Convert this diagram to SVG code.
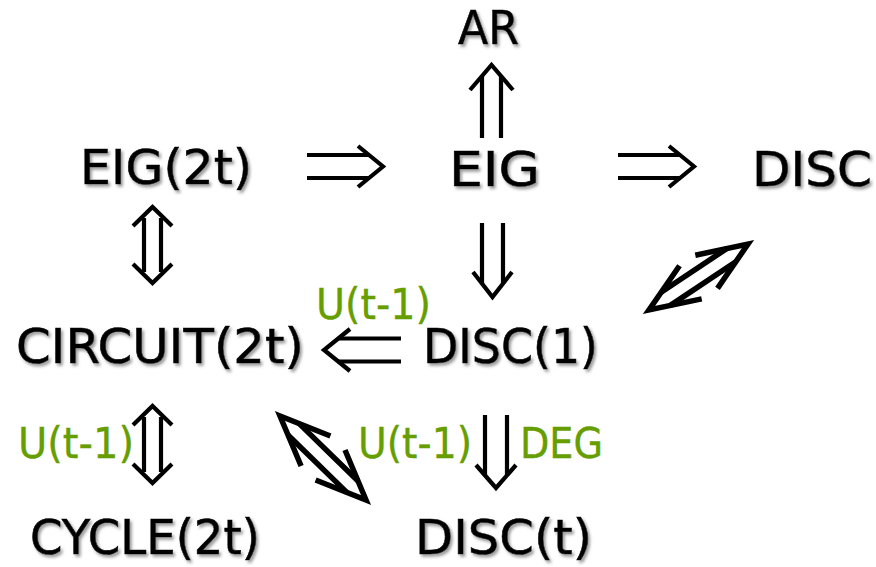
<svg xmlns="http://www.w3.org/2000/svg" width="876" height="567" viewBox="0 0 876 567">
  <defs>
    <filter id="soft-shadow" x="-10%" y="-20%" width="120%" height="150%">
      <feDropShadow dx="2" dy="2.5" stdDeviation="1.4" flood-color="#777" flood-opacity="0.75"/>
    </filter>
  </defs>
  <style>
    .lbl { font-family: "Comic Sans MS", "DejaVu Sans", sans-serif; font-size: 48px; fill: #000; stroke: #000; stroke-width: 0.6; filter: url(#soft-shadow); }
    .cond { font-family: "Comic Sans MS", "DejaVu Sans", sans-serif; font-size: 42px; fill: #669e00; stroke: #669e00; stroke-width: 0.4; }
    .arr { fill: none; stroke: #000; stroke-width: 4.2; stroke-linecap: butt; stroke-linejoin: miter; }
    .arr-bold { fill: none; stroke: #000; stroke-width: 5.5; stroke-linecap: butt; stroke-linejoin: miter; }
  </style>

  <rect width="876" height="567" fill="#fff"/>

  <!-- nodes -->
  <g id="node-ar"><text class="lbl" x="458" y="44" style="font-size:46px" textLength="61" lengthAdjust="spacingAndGlyphs">AR</text></g>
  <g id="node-eig2t"><text class="lbl" x="80" y="184" textLength="172" lengthAdjust="spacingAndGlyphs">EIG(2t)</text></g>
  <g id="node-eig"><text class="lbl" x="449" y="186" textLength="91" lengthAdjust="spacingAndGlyphs">EIG</text></g>
  <g id="node-disc"><text class="lbl" x="752" y="186" textLength="120" lengthAdjust="spacingAndGlyphs">DISC</text></g>
  <g id="node-circuit2t"><text class="lbl" x="16" y="363" textLength="288" lengthAdjust="spacingAndGlyphs">CIRCUIT(2t)</text></g>
  <g id="node-disc1"><text class="lbl" x="423" y="363" textLength="175" lengthAdjust="spacingAndGlyphs">DISC(1)</text></g>
  <g id="node-cycle2t"><text class="lbl" x="30" y="554" textLength="230" lengthAdjust="spacingAndGlyphs">CYCLE(2t)</text></g>
  <g id="node-disct"><text class="lbl" x="415" y="554" textLength="177" lengthAdjust="spacingAndGlyphs">DISC(t)</text></g>

  <!-- connectors -->
  <g id="connectors">
    <!-- EIG => AR -->
    <g id="edge-eig-ar" class="arr">
      <path d="M482 76 V138 M501 76 V138"/>
      <path d="M470 90 L491.5 65 L513 90"/>
    </g>
    <!-- EIG(2t) => EIG -->
    <g id="edge-eig2t-eig" class="arr">
      <path d="M307 155 H370 M307 178 H370"/>
      <path d="M358 146 L383 166.5 L358 187"/>
    </g>
    <!-- EIG => DISC -->
    <g id="edge-eig-disc" class="arr">
      <path d="M618 155 H681 M618 178 H681"/>
      <path d="M669 146 L694 166.5 L669 187"/>
    </g>
    <!-- EIG(2t) <=> CIRCUIT(2t) -->
    <g id="edge-eig2t-circuit" class="arr">
      <path d="M144 218 V272 M161 218 V272"/>
      <path d="M133 226 L152.5 207 L172 226"/>
      <path d="M133 264 L152.5 283 L172 264"/>
    </g>
    <!-- EIG => DISC(1) -->
    <g id="edge-eig-disc1" class="arr">
      <path d="M482 223 V284 M503 223 V284"/>
      <path d="M473 272 L492.5 297 L512 272"/>
    </g>
    <!-- DISC <=> DISC(1) -->
    <g id="edge-disc-disc1" class="arr-bold">
      <path d="M670 305.6 L735.8 261.8 M661.2 292.2 L727 248.4"/>
      <path d="M701.7 298.9 L649 310 L679.5 265.7"/>
      <path d="M717.5 288.4 L748 244 L695.3 255.2"/>
    </g>
    <!-- DISC(1) => CIRCUIT(2t) -->
    <g id="edge-disc1-circuit" class="arr">
      <path d="M338 338.5 H401 M338 361.5 H401"/>
      <path d="M350 329 L324 350 L350 371"/>
    </g>
    <!-- CIRCUIT(2t) <=> CYCLE(2t) -->
    <g id="edge-circuit-cycle" class="arr">
      <path d="M144 417 V472 M161 417 V472"/>
      <path d="M133 425 L152.5 406 L172 425"/>
      <path d="M133 464 L152.5 483 L172 464"/>
    </g>
    <!-- CIRCUIT(2t) <=> DISC(t) -->
    <g id="edge-circuit-disct" class="arr-bold">
      <path d="M288 435 L346.8 492.4 M299.2 423.6 L358 481"/>
      <path d="M301.1 466 L280 416 L330.4 436"/>
      <path d="M315.6 480 L366 500 L345 450"/>
    </g>
    <!-- DISC(1) => DISC(t) -->
    <g id="edge-disc1-disct" class="arr">
      <path d="M485 415 V475 M507 415 V475"/>
      <path d="M476 465 L496 488 L516 465"/>
    </g>

    <!-- edge labels -->
    <text class="cond" x="316" y="319" textLength="115" lengthAdjust="spacingAndGlyphs">U(t-1)</text>
    <text class="cond" x="18" y="458" textLength="116" lengthAdjust="spacingAndGlyphs">U(t-1)</text>
    <text class="cond" x="358" y="458" textLength="114" lengthAdjust="spacingAndGlyphs">U(t-1)</text>
    <text class="cond" x="520" y="458" textLength="83" lengthAdjust="spacingAndGlyphs">DEG</text>
  </g>
</svg>
